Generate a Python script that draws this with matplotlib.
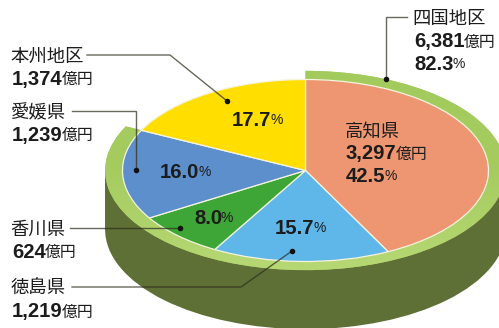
import matplotlib
matplotlib.use("Agg")
import matplotlib.pyplot as plt
from matplotlib.colors import LinearSegmentedColormap
from matplotlib.patches import Rectangle, Wedge
import numpy as np

# prefecture breakdown
prefectures = ["高知県", "徳島県", "香川県", "愛媛県", "本州地区"]
shares = [42.5, 15.7, 8.0, 16.0, 17.7]
amounts = ["3,297", "1,219", "624", "1,239", "1,374"]
slice_colors = ["#ee9672", "#5fb7e9", "#3ea637", "#5c8fcc", "#ffde00"]

# shikoku total
region_name = "四国地区"
region_amount = "6,381"
region_share = 82.3

JP = ["Noto Sans CJK JP", "DejaVu Sans"]
NUM = "Liberation Sans"
TEXT = "#1c1c1c"

W, H = 499, 328
CX, CY = 305.5, 170.5
RX, RY = 183, 91
RING = 1.095
DEPTH = 59

fig = plt.figure(figsize=(W / 100, H / 100), dpi=100, facecolor="white")

# pie axes: one data unit is the radius of the tilted top face
pie_ax = fig.add_axes([0, 0, 1, 1])
ax = fig.add_axes([0, 0, 1, 1])
ax.set_xlim(0, W)
ax.set_ylim(H, 0)
ax.axis("off")
ax.patch.set_alpha(0)


def draw_pie():
    drop = DEPTH / RY
    # rim side, drawn below the ring
    pie_ax.add_patch(Wedge((0, -drop), RING, 180, 360, fc="#5e7035", ec="none", zorder=1))
    pie_ax.add_patch(Rectangle((-RING, -drop), 2 * RING, drop, fc="#5e7035", ec="none", zorder=1))

    ring, _ = pie_ax.pie([region_share, 100 - region_share], radius=RING, startangle=90,
                         counterclock=False, colors=["#a6cc60", "none"],
                         wedgeprops={"linewidth": 0})
    for w in ring:
        w.set_zorder(2)

    # the ring gets lighter towards the front
    cmap = LinearSegmentedColormap.from_list("ring", ["#a2ca5c", "#a6cc60", "#b8d976"])
    grad = pie_ax.imshow(np.linspace(0, 1, 256).reshape(-1, 1), cmap=cmap, aspect="auto",
                         extent=(-1.2, 1.2, -1.2, 1.2), origin="upper", zorder=3)
    grad.set_clip_path(ring[0])

    wedges, _ = pie_ax.pie(shares, radius=1, startangle=90, counterclock=False,
                           colors=slice_colors,
                           wedgeprops={"edgecolor": "#f4f3df", "linewidth": 0.9})
    for w in wedges:
        w.set_zorder(4)

    pie_ax.set_aspect("auto")
    pie_ax.set_xlim(-CX / RX, (W - CX) / RX)
    pie_ax.set_ylim((CY - H) / RY, CY / RY)
    pie_ax.axis("off")


def put_runs(x, y, runs):
    # runs of (text, family, size, weight) set one after the other on a shared centre line
    r = fig.canvas.get_renderer()
    inv = ax.transData.inverted()
    for s, family, size, weight in runs:
        t = ax.text(x, y, s, family=family, fontsize=size, fontweight=weight,
                    color=TEXT, va="center_baseline", ha="left", zorder=6)
        x = inv.transform(t.get_window_extent(r).extents[2:])[0] - 1.2


def name_line(x, y, s):
    put_runs(x - 1.5, y, [(s, JP, 13.2, "normal")])


def yen_line(x, y, s):
    put_runs(x, y, [(s, NUM, 14.6, "bold"), ("億円", JP, 11.4, "normal")])


def pct_line(x, y, v):
    put_runs(x, y, [(f"{v:.1f}", NUM, 14.6, "bold"), ("%", NUM, 10, "normal")])


def leader(xs, ys):
    ax.plot(xs, ys, color="#2e2e1e", alpha=0.72, lw=1.0, zorder=5, solid_joinstyle="miter")
    ax.plot(xs[-1], ys[-1], "o", color="#111111", ms=4.0, mew=0, zorder=5)


draw_pie()

leader([87, 170, 227], [55, 55, 101])
leader([72, 136, 136], [111, 111, 170])
leader([70, 180], [228, 228])
leader([72, 241, 292], [287, 287, 251])
leader([407, 386, 386], [17, 17, 79])

# outside labels
name_line(12, 55, prefectures[4])
yen_line(12, 77, amounts[4])
name_line(12, 111, prefectures[3])
yen_line(12, 133, amounts[3])
name_line(12, 228, prefectures[2])
yen_line(12, 250, amounts[2])
name_line(12, 287, prefectures[1])
yen_line(12, 310, amounts[1])

name_line(414, 17, region_name)
yen_line(414, 40, region_amount)
pct_line(414, 62, region_share)

# labels on the slices
name_line(346, 130, prefectures[0])
yen_line(346, 152, amounts[0])
pct_line(346, 174, shares[0])
pct_line(232, 119, shares[4])
pct_line(160, 170, shares[3])
pct_line(194, 216, shares[2])
pct_line(275, 227, shares[1])

fig.savefig("out.png", dpi=100, facecolor="white")
